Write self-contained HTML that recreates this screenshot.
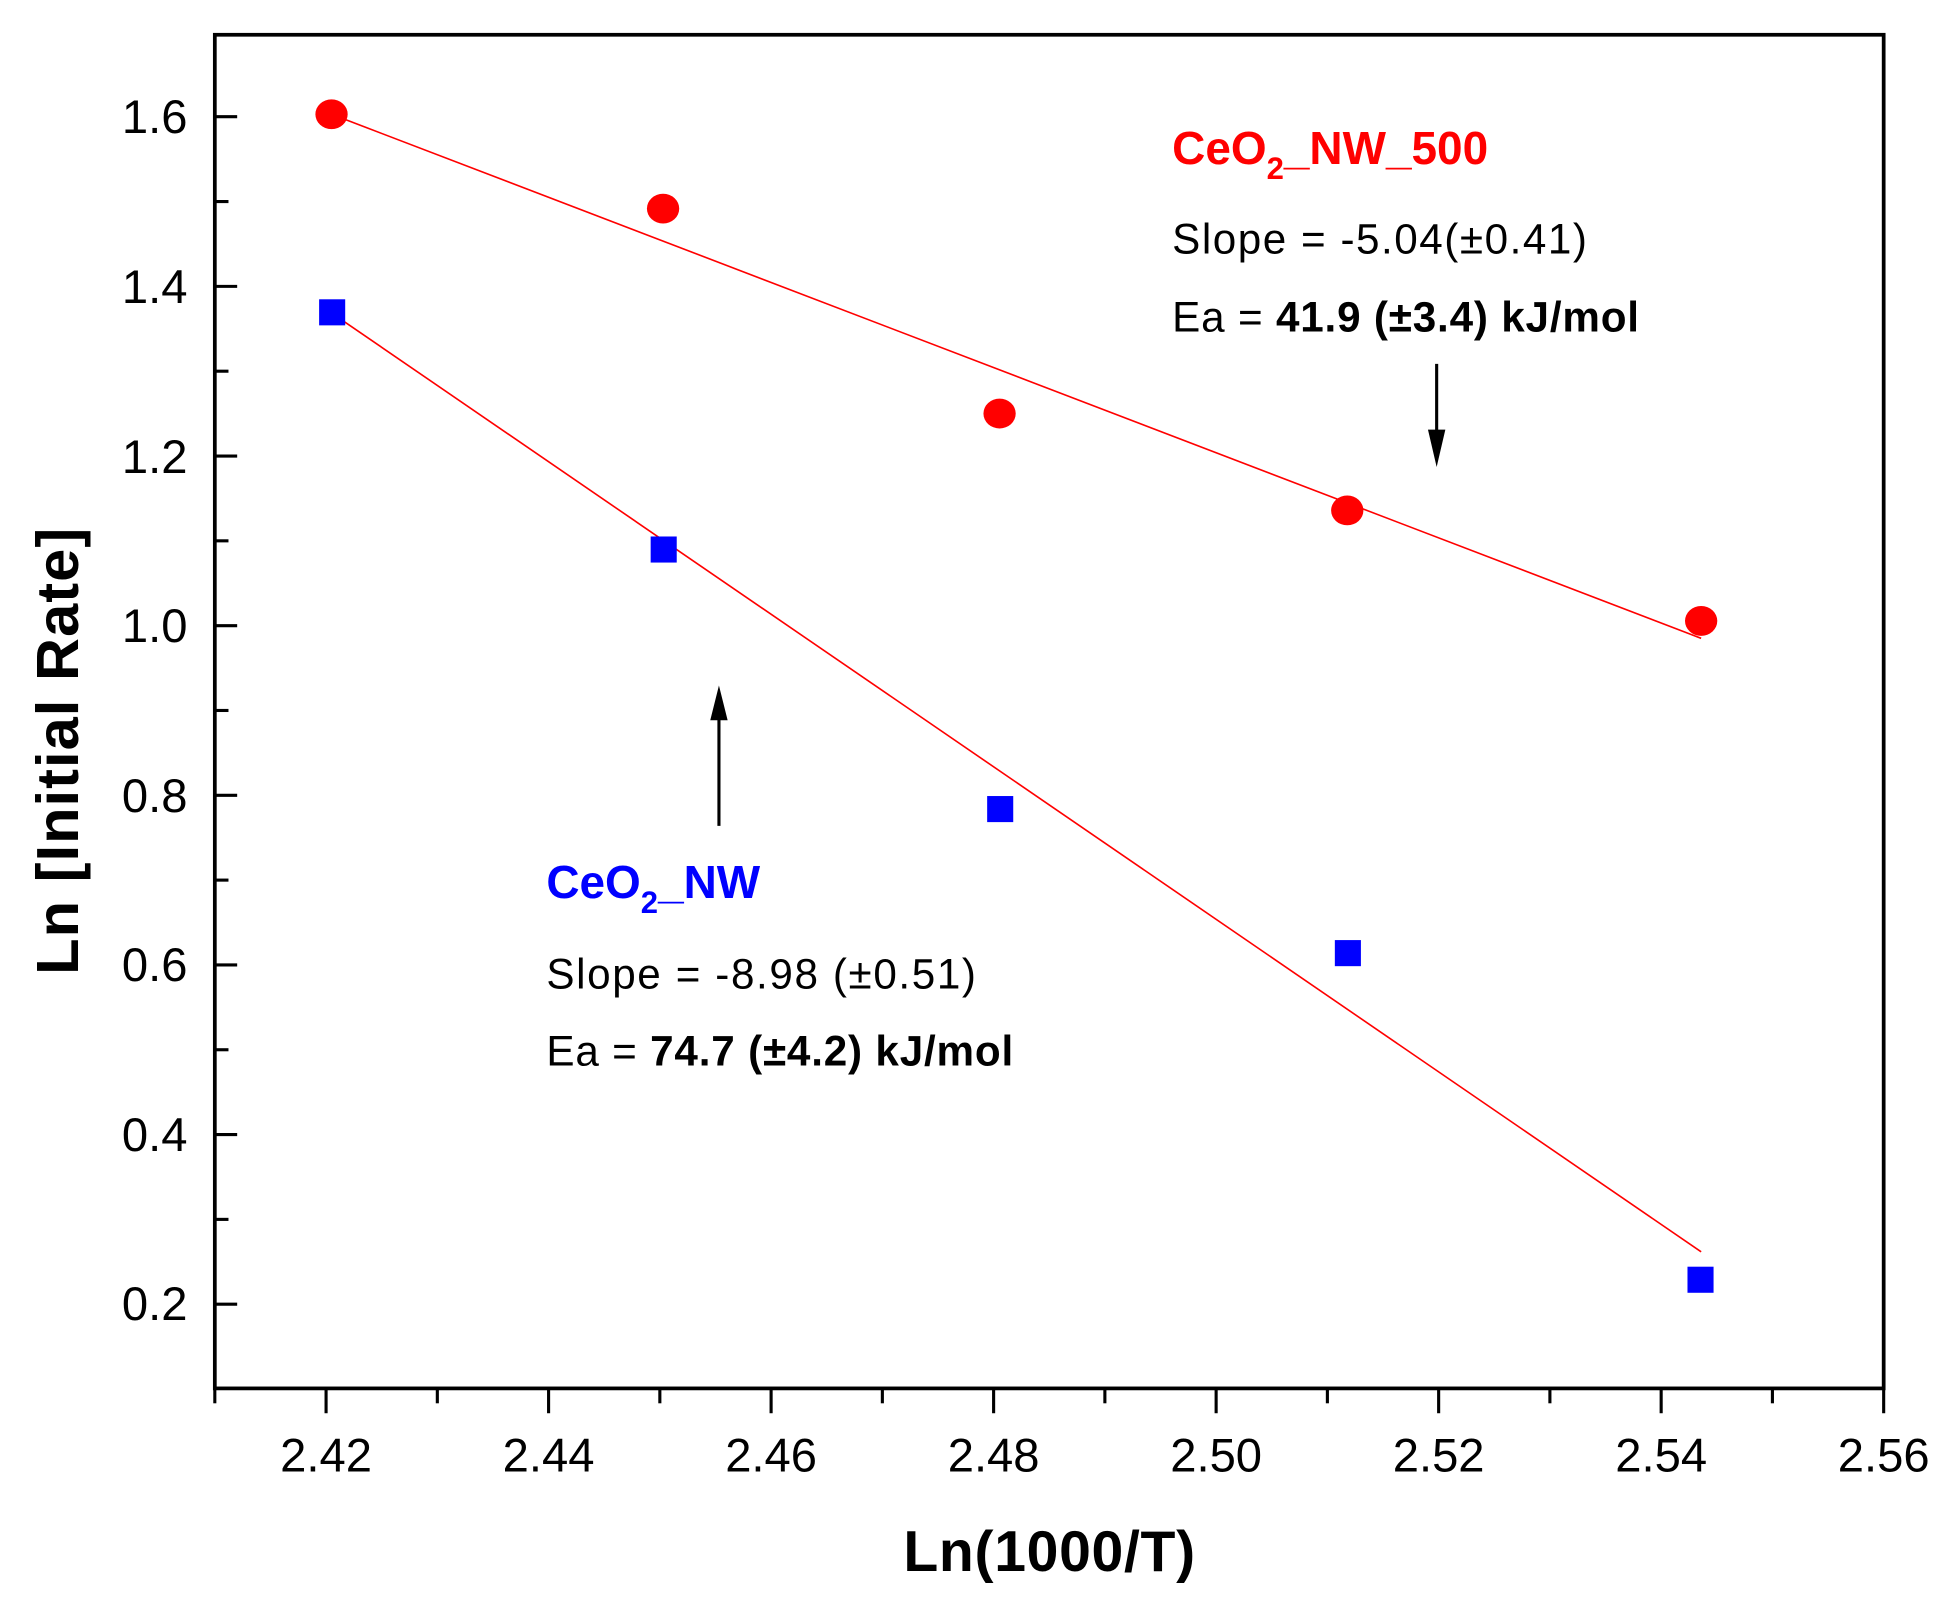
<!DOCTYPE html>
<html><head><meta charset="utf-8"><style>
html,body{margin:0;padding:0;background:#fff;}
svg{display:block;}
text{font-family:"Liberation Sans",Arial,sans-serif;}
</style></head><body>
<svg width="1947" height="1602" viewBox="0 0 1568 1290" preserveAspectRatio="none" xmlns="http://www.w3.org/2000/svg">
<rect width="1568" height="1290" fill="#fff"/>
<rect x="173" y="28" width="1344" height="1090" fill="none" stroke="#000" stroke-width="3"/>
<g stroke="#000" stroke-width="2.5">
<line x1="173" y1="94" x2="191" y2="94"/><line x1="173" y1="162.3" x2="184" y2="162.3"/>
<line x1="173" y1="230.6" x2="191" y2="230.6"/><line x1="173" y1="298.9" x2="184" y2="298.9"/>
<line x1="173" y1="367.2" x2="191" y2="367.2"/><line x1="173" y1="435.5" x2="184" y2="435.5"/>
<line x1="173" y1="503.8" x2="191" y2="503.8"/><line x1="173" y1="572.1" x2="184" y2="572.1"/>
<line x1="173" y1="640.4" x2="191" y2="640.4"/><line x1="173" y1="708.7" x2="184" y2="708.7"/>
<line x1="173" y1="777" x2="191" y2="777"/><line x1="173" y1="845.3" x2="184" y2="845.3"/>
<line x1="173" y1="913.6" x2="191" y2="913.6"/><line x1="173" y1="981.9" x2="184" y2="981.9"/>
<line x1="173" y1="1050.2" x2="191" y2="1050.2"/>
<line x1="173" y1="1118" x2="173" y2="1130"/>
<line x1="262.6" y1="1118" x2="262.6" y2="1138"/><line x1="352.2" y1="1118" x2="352.2" y2="1130"/>
<line x1="441.8" y1="1118" x2="441.8" y2="1138"/><line x1="531.4" y1="1118" x2="531.4" y2="1130"/>
<line x1="621" y1="1118" x2="621" y2="1138"/><line x1="710.6" y1="1118" x2="710.6" y2="1130"/>
<line x1="800.2" y1="1118" x2="800.2" y2="1138"/><line x1="889.8" y1="1118" x2="889.8" y2="1130"/>
<line x1="979.4" y1="1118" x2="979.4" y2="1138"/><line x1="1069" y1="1118" x2="1069" y2="1130"/>
<line x1="1158.6" y1="1118" x2="1158.6" y2="1138"/><line x1="1248.2" y1="1118" x2="1248.2" y2="1130"/>
<line x1="1337.8" y1="1118" x2="1337.8" y2="1138"/><line x1="1427.4" y1="1118" x2="1427.4" y2="1130"/>
<line x1="1517" y1="1118" x2="1517" y2="1138"/>
</g>
<g font-size="38" text-anchor="end" fill="#000">
<text x="151" y="107">1.6</text><text x="151" y="244">1.4</text><text x="151" y="381">1.2</text>
<text x="151" y="517">1.0</text><text x="151" y="654">0.8</text><text x="151" y="790">0.6</text>
<text x="151" y="927">0.4</text><text x="151" y="1063">0.2</text>
</g>
<g font-size="38" text-anchor="middle" fill="#000">
<text x="262.6" y="1185">2.42</text><text x="441.8" y="1185">2.44</text><text x="621" y="1185">2.46</text>
<text x="800.2" y="1185">2.48</text><text x="979.4" y="1185">2.50</text><text x="1158.6" y="1185">2.52</text>
<text x="1337.8" y="1185">2.54</text><text x="1517" y="1185">2.56</text>
</g>
<text x="845" y="1265" font-size="46" font-weight="bold" text-anchor="middle" textLength="235">Ln(1000/T)</text>
<text transform="translate(63,605) rotate(-90)" font-size="48" font-weight="bold" text-anchor="middle" textLength="360">Ln [Initial Rate]</text>
<line x1="267" y1="92" x2="1370" y2="514" stroke="#f00" stroke-width="1.3"/>
<line x1="267" y1="252" x2="1370" y2="1008" stroke="#f00" stroke-width="1.3"/>
<g fill="#f00">
<ellipse cx="267" cy="92" rx="13" ry="12"/><ellipse cx="534" cy="168" rx="13" ry="12"/>
<ellipse cx="805" cy="333" rx="13" ry="12"/><ellipse cx="1085" cy="411" rx="13" ry="12"/>
<ellipse cx="1370" cy="500" rx="13" ry="12"/>
</g>
<g fill="#00f">
<rect x="257" y="241" width="21" height="21"/><rect x="524" y="432" width="21" height="21"/>
<rect x="795" y="641" width="21" height="21"/><rect x="1075" y="757" width="21" height="21"/>
<rect x="1359" y="1020" width="21" height="21"/>
</g>
<line x1="1157" y1="293" x2="1157" y2="365" stroke="#000" stroke-width="2.5"/>
<polygon points="1150,346 1164,346 1157,376" fill="#000"/>
<line x1="579" y1="665" x2="579" y2="563" stroke="#000" stroke-width="2.5"/>
<polygon points="572,580 586,580 579,552" fill="#000"/>
<text x="944" y="132" font-size="37" font-weight="bold" fill="#f00">CeO<tspan font-size="25" dy="12">2</tspan><tspan dy="-12">_NW_500</tspan></text>
<text x="944" y="204" font-size="34" textLength="334">Slope = -5.04(±0.41)</text>
<text x="944" y="267" font-size="34" textLength="376">Ea = <tspan font-weight="bold">41.9 (±3.4) kJ/mol</tspan></text>
<text x="440" y="723" font-size="37" font-weight="bold" fill="#00f">CeO<tspan font-size="25" dy="12">2</tspan><tspan dy="-12">_NW</tspan></text>
<text x="440" y="796" font-size="34" textLength="346">Slope = -8.98 (±0.51)</text>
<text x="440" y="858" font-size="34" textLength="376">Ea = <tspan font-weight="bold">74.7 (±4.2) kJ/mol</tspan></text>
</svg>
</body></html>
